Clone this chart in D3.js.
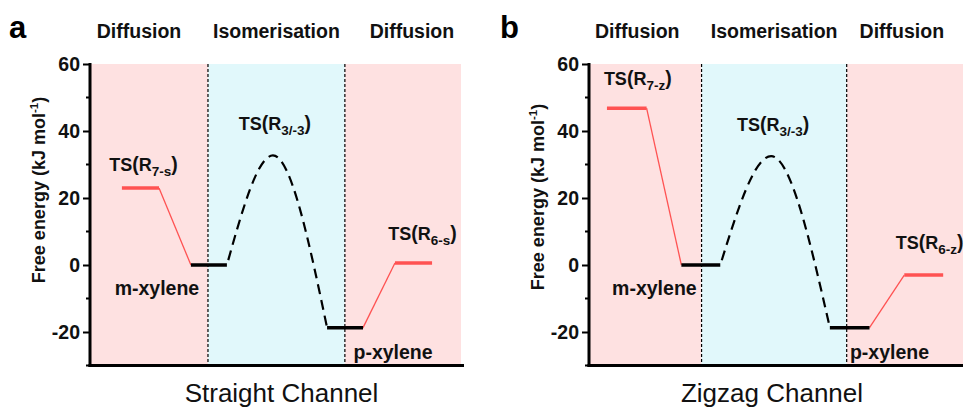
<!DOCTYPE html>
<html><head><meta charset="utf-8">
<script src="https://cdn.jsdelivr.net/npm/d3@7"></script>
<style>
body{margin:0;background:#fff;}
svg text{font-family:"Liberation Sans",Arial,sans-serif;}
</style></head>
<body><svg id="chart" width="965" height="409"></svg>
<script>
// ---------- DATA ----------
const yDomain = [-30, 60];
const yTicks = [-20, 0, 20, 40, 60];
const yMinorTicks = [-30, -10, 10, 30, 50];
const headerLabels = ["Diffusion", "Isomerisation", "Diffusion"];
const channelTitles = ["Straight Channel", "Zigzag Channel"];
const panelLetters = ["a", "b"];
const yAxisTitle = "Free energy";

// reaction-coordinate (0-100) boundaries between regions
const regionBoundsA = [0, 31.8, 68.7, 100];
const regionBoundsB = [0, 30.1, 68.9, 100];

// energy levels: [x start, x end, free energy]
const levelNames = ["TS7", "m-xylene", "p-xylene", "TS6"];
const levelsA = [[8.6, 18.6, 23.0], [27.2, 36.9, 0.0], [63.9, 73.6, -18.7], [82.2, 92.2, 0.6]];
const levelsB = [[4.8, 15.4, 46.8], [24.7, 35.1, 0.0], [64.4, 75.0, -18.7], [84.3, 94.7, -3.0]];

// isomerisation barrier (start, peak, end)
const barrierA = [[36.9, 0.0], [49.3, 32.7], [63.9, -18.7]];
const barrierB = [[35.1, 0.0], [48.7, 32.5], [64.4, -18.7]];

const tsLabelsA = ["7-s", "3/-3", "6-s"];
const tsLabelsB = ["7-z", "3/-3", "6-z"];

// ---------- DRAW ----------
const svg = d3.select("#chart");
const pink = "#fee1e1", cyan = "#e1f8fb", red = "#ff5252";
const FS = 19.5;

function tsText(g, x, y, sub) {
  const t = g.append("text").attr("x", x).attr("y", y).attr("text-anchor", "middle")
    .attr("font-weight", "bold").attr("font-size", 18).attr("fill", "#111");
  t.append("tspan").text("TS");
  t.append("tspan").attr("font-size", 19.5).text("(");
  t.append("tspan").text("R");
  t.append("tspan").attr("font-size", 13.5).attr("dy", 5).text(sub);
  t.append("tspan").attr("font-size", 19.5).attr("dy", -5).text(")");
}

function drawPanel(p) {
  const g = svg.append("g");
  const x = d3.scaleLinear().domain([0, 100]).range([p.left, p.right]);
  const y = d3.scaleLinear().domain(yDomain).range([365.5, 64]);

  // backgrounds
  const regions = d3.pairs(p.bounds);
  g.selectAll("rect.bg").data(regions).join("rect")
    .attr("x", d => x(d[0])).attr("width", d => x(d[1]) - x(d[0]))
    .attr("y", y(yDomain[1])).attr("height", y(yDomain[0]) - y(yDomain[1]))
    .attr("fill", (d, i) => i === 1 ? cyan : pink);

  // dividers
  g.selectAll("line.div").data(p.bounds.slice(1, 3)).join("line")
    .attr("x1", d => x(d)).attr("x2", d => x(d))
    .attr("y1", y(yDomain[1])).attr("y2", y(yDomain[0]))
    .attr("stroke", "#000").attr("stroke-width", 1.2).attr("stroke-dasharray", "3,2");

  // headers
  g.selectAll("text.hdr").data(regions).join("text")
    .attr("x", (d, i) => x((d[0] + d[1]) / 2) + p.hdrShift[i]).attr("y", 37.5)
    .attr("text-anchor", "middle").attr("font-weight", "bold").attr("font-size", FS)
    .attr("fill", "#111").text((d, i) => headerLabels[i]);

  // panel letter
  g.append("text").attr("x", p.letterX).attr("y", 38).attr("font-weight", "bold")
    .attr("font-size", 31).attr("fill", "#000").text(p.letter);

  // connectors (thin red)
  const L = p.levels;
  const conn = [[L[0][1], L[0][2], L[1][0], L[1][2]], [L[2][1], L[2][2], L[3][0], L[3][2]]];
  g.selectAll("line.conn").data(conn).join("line")
    .attr("x1", d => x(d[0])).attr("y1", d => y(d[1]))
    .attr("x2", d => x(d[2])).attr("y2", d => y(d[3]))
    .attr("stroke", red).attr("stroke-width", 1.3);

  // barrier
  const line = d3.line().x(d => x(d[0])).y(d => y(d[1])).curve(d3.curveMonotoneX);
  g.append("path").attr("d", line(p.barrier)).attr("fill", "none")
    .attr("stroke", "#000").attr("stroke-width", 2.2).attr("stroke-dasharray", "10,6")
    .attr("stroke-dashoffset", -5);

  // levels
  g.selectAll("line.lvl").data(L).join("line")
    .attr("x1", d => x(d[0])).attr("x2", d => x(d[1]))
    .attr("y1", d => y(d[2])).attr("y2", d => y(d[2]))
    .attr("stroke", (d, i) => (i === 0 || i === 3) ? red : "#000").attr("stroke-width", 3.5);

  // labels
  tsText(g, x((L[0][0] + L[0][1]) / 2) + p.ts7dx, y(L[0][2]) + p.ts7dy, p.ts[0]);
  tsText(g, x(p.barrier[1][0]) + 2, y(p.barrier[1][1]) - 25, p.ts[1]);
  tsText(g, x((L[3][0] + L[3][1]) / 2) + p.ts6dx, y(L[3][2]) + p.ts6dy, p.ts[2]);
  g.append("text").attr("x", x(L[1][0]) + p.mdx).attr("y", y(L[1][2]) + 30)
    .attr("text-anchor", "middle").attr("font-weight", "bold").attr("font-size", FS)
    .attr("fill", "#111").text(levelNames[1]);
  g.append("text").attr("x", x(L[2][1]) + p.pdx).attr("y", y(L[2][2]) + 31)
    .attr("text-anchor", "middle").attr("font-weight", "bold").attr("font-size", FS)
    .attr("fill", "#111").text(levelNames[2]);

  // axes
  const ax = g.append("g").attr("transform", `translate(${p.left},0)`)
    .call(d3.axisLeft(y).tickValues(yTicks).tickSize(7).tickPadding(3).tickFormat(d => String(d)));
  ax.select(".domain").remove();
  ax.selectAll(".tick line").attr("stroke-width", 2);
  ax.selectAll(".tick text").attr("font-weight", "bold").attr("font-size", FS)
    .attr("fill", "#111").style("font-family", "Liberation Sans, Arial, sans-serif");
  g.selectAll("line.minor").data(yMinorTicks).join("line")
    .attr("x1", p.left - 4).attr("x2", p.left).attr("y1", d => y(d)).attr("y2", d => y(d))
    .attr("stroke", "#000").attr("stroke-width", 2);
  g.append("line").attr("x1", p.left).attr("x2", p.left)
    .attr("y1", y(yDomain[1]) - 1).attr("y2", y(yDomain[0]) + 1.5)
    .attr("stroke", "#000").attr("stroke-width", 3);
  g.append("line").attr("x1", p.left - 1.5).attr("x2", p.right + p.axisExtra)
    .attr("y1", y(yDomain[0])).attr("y2", y(yDomain[0]))
    .attr("stroke", "#000").attr("stroke-width", 3);

  // y title
  const yt = g.append("text").attr("transform", `translate(${p.yTitleX},${p.yTitleY}) rotate(-90)`)
    .attr("text-anchor", "middle").attr("font-weight", "bold").attr("font-size", 18).attr("fill", "#111");
  yt.append("tspan").text(yAxisTitle + p.gap + "(kJ mol");
  yt.append("tspan").attr("font-size", 11.5).attr("dy", -7).text("-1");
  yt.append("tspan").attr("dy", 7).text(")");

  // channel title
  g.append("text").attr("x", (p.left + p.right) / 2 + p.titleShift).attr("y", 401.5)
    .attr("text-anchor", "middle").attr("font-size", 26).attr("fill", "#111").text(p.title);
}

drawPanel({
  left: 90, right: 461, axisExtra: 3, bounds: regionBoundsA, levels: levelsA, barrier: barrierA,
  ts: tsLabelsA, letter: panelLetters[0], letterX: 9, title: channelTitles[0], titleShift: 6,
  hdrShift: [-10, 0, 9], ts7dx: 3, ts7dy: -17, ts6dx: 9, ts6dy: -23, mdx: -34, pdx: 30,
  yTitleX: 45, yTitleY: 190, gap: "  "
});
drawPanel({
  left: 589, right: 963, axisExtra: 0, bounds: regionBoundsB, levels: levelsB, barrier: barrierB,
  ts: tsLabelsB, letter: panelLetters[1], letterX: 500, title: channelTitles[1], titleShift: -4,
  hdrShift: [-8, 0, -3], ts7dx: 11, ts7dy: -23, ts6dx: 6, ts6dy: -26, mdx: -27, pdx: 20,
  yTitleX: 544, yTitleY: 197, gap: " "
});
</script></body></html>
